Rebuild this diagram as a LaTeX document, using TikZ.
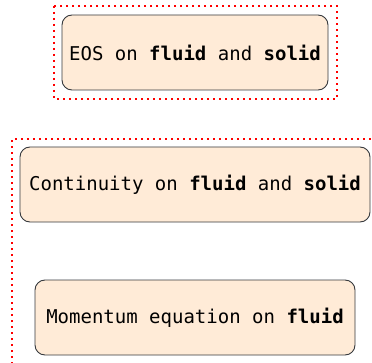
\documentclass[tikz,border=0pt]{standalone}
\usepackage{fontspec}
\setmonofont{DejaVu Sans Mono}
\definecolor{boxfill}{HTML}{FFEBD7}
\definecolor{boxdraw}{HTML}{36393D}
\definecolor{grpred}{HTML}{FF0000}
\tikzset{
  eqbox/.style={draw=boxdraw, fill=boxfill, line width=0.9pt, rounded corners=10pt,
    font=\ttfamily\fontsize{19}{23}\selectfont, inner sep=0pt, minimum height=75pt},
  grpframe/.style={draw=grpred, line width=1.8pt, dash pattern=on 1.8pt off 4.2pt}
}
\begin{document}
\begin{tikzpicture}[x=1pt,y=1pt]
\useasboundingbox (0,0) rectangle (372,362);
\clip (0,0) rectangle (372,362);
\draw[grpframe] (54,356) rectangle (337,263);
\draw[grpframe] (12,-20) -- (12,223) -- (390,223);
\node[eqbox, minimum width=266pt] (eos) at (195,309.5) {EOS on \textbf{fluid} and \textbf{solid}};
\node[eqbox, minimum width=350pt] (cont) at (195,177.5) {Continuity on \textbf{fluid} and \textbf{solid}};
\node[eqbox, minimum width=320pt] (mom) at (195,44.5) {Momentum equation on \textbf{fluid}};
\end{tikzpicture}
\end{document}
